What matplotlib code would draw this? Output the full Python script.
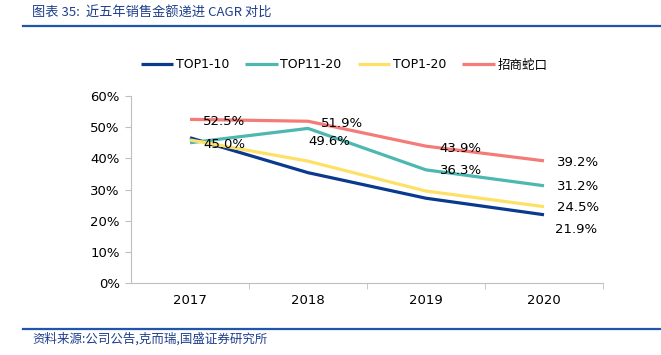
import matplotlib
matplotlib.use("Agg")
import matplotlib.pyplot as plt

plt.rcParams['font.family'] = ['DejaVu Sans', 'Noto Sans CJK SC']

years = ['2017', '2018', '2019', '2020']
top1_10 = [46.6, 35.4, 27.2, 21.9]
top11_20 = [45.0, 49.6, 36.3, 31.2]
top1_20 = [45.9, 39.1, 29.5, 24.5]
zhaoshang = [52.5, 51.9, 43.9, 39.2]

fig = plt.figure(figsize=(6.61, 3.55), dpi=100)
ax = fig.add_axes([131 / 661, 1 - 283 / 355, (603 - 131) / 661, (283 - 96) / 355])

x = [0, 1, 2, 3]
lw = 2.3
ax.plot(x, top1_10, color='#0A3A8E', lw=lw, label='TOP1-10', solid_capstyle='butt')
ax.plot(x, top11_20, color='#4DB8B0', lw=lw, label='TOP11-20', solid_capstyle='butt')
ax.plot(x, top1_20, color='#FFE066', lw=lw, label='TOP1-20', solid_capstyle='butt')
ax.plot(x, zhaoshang, color='#F47B78', lw=lw, label='招商蛇口', solid_capstyle='butt')

fs = 9.5


def label(xi, yi, dx, dy):
    # dx, dy in pixels (dpi 100), dy positive = down
    ax.annotate(f'{yi:.1f}%', (xi, yi), xytext=(dx * 0.72, -dy * 0.72),
                textcoords='offset points', fontsize=fs, va='center', ha='left')


for i in range(4):
    label(x[i], zhaoshang[i], 13, 2)
label(0, top11_20[0], 13, 1.5)
label(1, top11_20[1], 0, 13.5)
label(2, top11_20[2], 14, 1)
label(3, top11_20[3], 13, 1)
label(3, top1_20[3], 13, 1)
label(3, top1_10[3], 11, 14.5)

ax.set_xlim(-0.5, 3.5)
ax.set_ylim(0, 60)
ax.set_yticks(range(0, 61, 10))
ax.set_yticklabels([f'{v}%' for v in range(0, 61, 10)], fontsize=fs)
ax.set_xticks(x)
ax.set_xticklabels(years, fontsize=fs)
ax.set_xticks([0.5, 1.5, 2.5, 3.5], minor=True)
ax.tick_params(axis='x', which='major', length=0, pad=8)
ax.tick_params(axis='x', which='minor', length=4, color='#BFBFBF', direction='out')
ax.tick_params(axis='y', length=4, color='#BFBFBF', pad=4)
for s in ['top', 'right']:
    ax.spines[s].set_visible(False)
ax.spines['left'].set_color('#BFBFBF')
ax.spines['bottom'].set_color('#BFBFBF')

fig.legend(loc='center', bbox_to_anchor=(344 / 661, 1 - 65 / 355), ncol=4, frameon=False,
           handlelength=2.6, columnspacing=1.3, handletextpad=0.2,
           prop={'family': ['DejaVu Sans', 'Noto Sans CJK SC'], 'size': 9})

# title and source
fig.text(32 / 661, 1 - 12 / 355, '图表 35:  近五年销售金额递进 CAGR 对比', fontsize=9.5,
         color='#1F3F8C', style='italic', va='center',
         family=['Noto Sans CJK SC', 'DejaVu Sans'])
fig.add_artist(plt.Line2D([23 / 661, 1], [1 - 25.5 / 355] * 2, color='#1F56A8', lw=1.6))
fig.add_artist(plt.Line2D([23 / 661, 1], [1 - 328.5 / 355] * 2, color='#1F56A8', lw=1.6))
fig.text(32 / 661, 1 - 339 / 355, '资料来源:公司公告,克而瑞,国盛证券研究所', fontsize=9,
         color='#1F3F8C', style='italic', va='center',
         family=['Noto Sans CJK SC', 'DejaVu Sans'])

fig.savefig('out.png', dpi=100)
